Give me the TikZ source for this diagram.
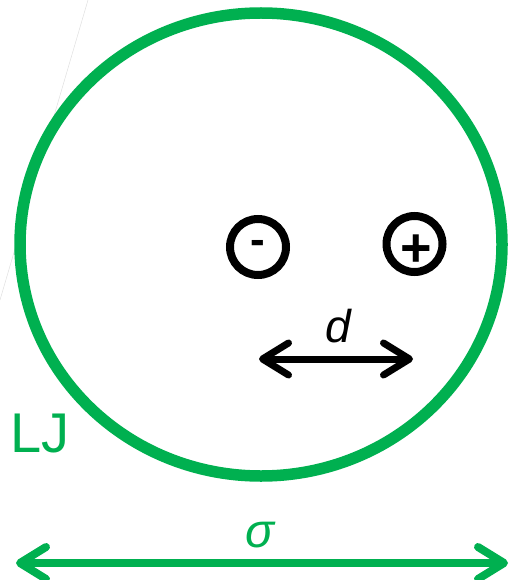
\documentclass[tikz,border=0pt]{standalone}
\usepackage{fontspec}
\setmainfont{Liberation Sans}
\usetikzlibrary{arrows.meta}
\definecolor{ljgreen}{HTML}{00B050}

\begin{document}
\begin{tikzpicture}[x=1pt,y=-1pt,
	charge/.style={circle,draw,line width=8pt,minimum size=56pt,inner sep=0pt,
		font=\bfseries\fontsize{44}{44}\selectfont},
	sign/.style={inner sep=0pt,font=\bfseries\fontsize{54}{54}\selectfont},
	barb/.style={line width=7pt,line cap=round,
		{Straight Barb[length=26pt,width=32pt,line cap=round,round]}-{Straight Barb[length=26pt,width=32pt,line cap=round,round]}},
	biglabel/.style={inner sep=0pt,anchor=base}]
	\useasboundingbox (0,0) rectangle (512,580);
	% faint guide line
	\draw [gray!25,line width=0.5pt] (88,0) -- (0,300);
	% LJ sphere
	\draw [ljgreen,line width=11.5pt] (261,244.5) ellipse [x radius=241,y radius=231.5];
	\node [biglabel,anchor=base west,text=ljgreen,font=\fontsize{56}{56}\selectfont] (lj) at (10,452) {LJ};
	% charges
	\node [charge] (neg) at (258,247) {-};
	\node [charge] (pos) at (414.5,244) {};
	\node [sign] (plus) at ([xshift=2pt,yshift=-7pt]pos.center) {+};
	% dipole distance
	\coordinate (dL) at (259,359);
	\coordinate (dR) at (413,359);
	\draw [barb] (dL) -- (dR);
	\node [biglabel,font=\itshape\fontsize{46}{46}\selectfont] (dlab) at (338,342) {d};
	% sigma
	\coordinate (sL) at (16,563);
	\coordinate (sR) at (508,563);
	\draw [barb,ljgreen,line width=8pt] (sL) -- (sR);
	\node [biglabel,text=ljgreen,font=\itshape\fontsize{48}{48}\selectfont] (slab) at (260,547) {σ};
\end{tikzpicture}
\end{document}
